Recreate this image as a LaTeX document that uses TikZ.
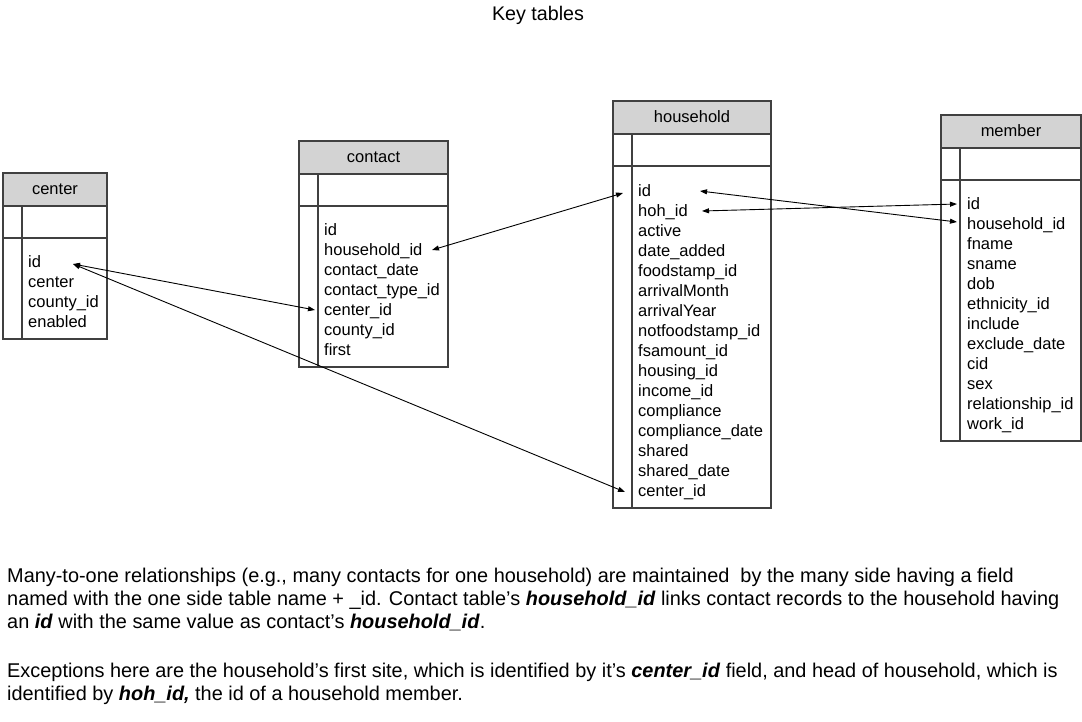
\documentclass[tikz,border=0pt]{standalone}
\usepackage{fontspec}
\setmainfont{Liberation Sans}
\usetikzlibrary{arrows.meta,calc}
\definecolor{tblline}{HTML}{404040}
\definecolor{hdrfill}{HTML}{D3D3D3}
\newcommand\dbtable[7]{% name, x1, x2, vx, ytop, ybottom, title
  \path[hdr] (#2,#5) rectangle (#3,#5+33);
  \draw[tbl] (#2,#5+33) rectangle (#3,#6);
  \draw[tbl] (#2,#5+65) -- (#3,#5+65);
  \draw[tbl] (#4,#5+33) -- (#4,#6);
  \node[ttl] (#1) at ({(#2+#3)/2},#5+21) {#7};
}
\begin{document}
\begin{tikzpicture}[x=1pt,y=-1pt,
  tbl/.style={draw=tblline,line width=1.2pt},
  hdr/.style={draw=tblline,line width=1.2pt,fill=hdrfill},
  fld/.style={anchor=base west,inner sep=0pt,font=\fontsize{16.5}{20}\selectfont},
  ttl/.style={anchor=base,inner sep=0pt,font=\fontsize{16.5}{20}\selectfont},
  link/.style={line width=0.9pt,{Triangle[length=7pt,width=5pt]}-{Triangle[length=7pt,width=5pt]}},
  para/.style={anchor=base west,inner sep=0pt,font=\fontsize{19.9}{23}\selectfont}]
\useasboundingbox (0,0) rectangle (1082,721);

\node[anchor=base,inner sep=0pt,font=\fontsize{19.7}{22}\selectfont] (title) at (538,20) {Key tables};

% center
\dbtable{center}{3}{107}{22}{173}{339}{center}
\foreach \n/\t [count=\i from 0] in {id/id,center/center,county/county\_id,enabled/enabled}
  \node[fld] (center-\n) at (28,267+20*\i) {\t};

% contact
\dbtable{contact}{299}{448}{318}{141}{367}{contact}
\foreach \n/\t [count=\i from 0] in {id/id,hid/household\_id,date/contact\_date,type/contact\_type\_id,center/center\_id,county/county\_id,first/first}
  \node[fld] (contact-\n) at (324,235+20*\i) {\t};

% household
\dbtable{household}{613}{771}{632}{101}{508}{household}
\foreach \n/\t [count=\i from 0] in {id/id,hoh/hoh\_id,active/active,added/date\_added,fs/foodstamp\_id,am/arrivalMonth,ay/arrivalYear,nfs/notfoodstamp\_id,fsa/fsamount\_id,hous/housing\_id,inc/income\_id,comp/compliance,compd/compliance\_date,sh/shared,shd/shared\_date,center/center\_id}
  \node[fld] (household-\n) at (638,196+20*\i) {\t};

% member
\dbtable{member}{941}{1081}{960}{115}{441}{member}
\foreach \n/\t [count=\i from 0] in {id/id,hid/household\_id,fname/fname,sname/sname,dob/dob,eth/ethnicity\_id,inc/include,exd/exclude\_date,cid/cid,sex/sex,rel/relationship\_id,work/work\_id}
  \node[fld] (member-\n) at (967,209+20*\i) {\t};

% connector ends
\coordinate (ce-id-e) at (73,264);
\coordinate (co-center-w) at (315,310);
\coordinate (co-hid-e) at (432,250);
\coordinate (hh-id-w) at (623,193);
\coordinate (hh-id-e) at (700,191);
\coordinate (hh-hoh-e) at (702,211);
\coordinate (hh-center-w) at (625,492);
\coordinate (me-id-w) at (957,204);
\coordinate (me-hid-w) at (957,222);

\draw[link] (ce-id-e) -- (co-center-w);
\draw[link] (ce-id-e) -- (hh-center-w);
\draw[link] (co-hid-e) -- (hh-id-w);
\draw[link] (hh-id-e) -- (me-hid-w);
\draw[link] (hh-hoh-e) -- (me-id-w);

% explanation
\node[para] (p1) at (7,582) {Many-to-one relationships (e.g., many contacts for one household) are maintained\ \ by the many side having a field};
\node[para] (p2) at (7,605) {named with the one side table name + \_id. Contact table’s \textbf{\textit{household\_id}} links contact records to the household having};
\node[para] (p3) at (7,628) {an \textbf{\textit{id}} with the same value as contact’s \textbf{\textit{household\_id}}.};
\node[para] (p4) at (7,677) {Exceptions here are the household’s first site, which is identified by it’s \textbf{\textit{center\_id}} field, and head of household, which is};
\node[para] (p5) at (7,700) {identified by \textbf{\textit{hoh\_id,}} the id of a household member.};
\end{tikzpicture}
\end{document}
